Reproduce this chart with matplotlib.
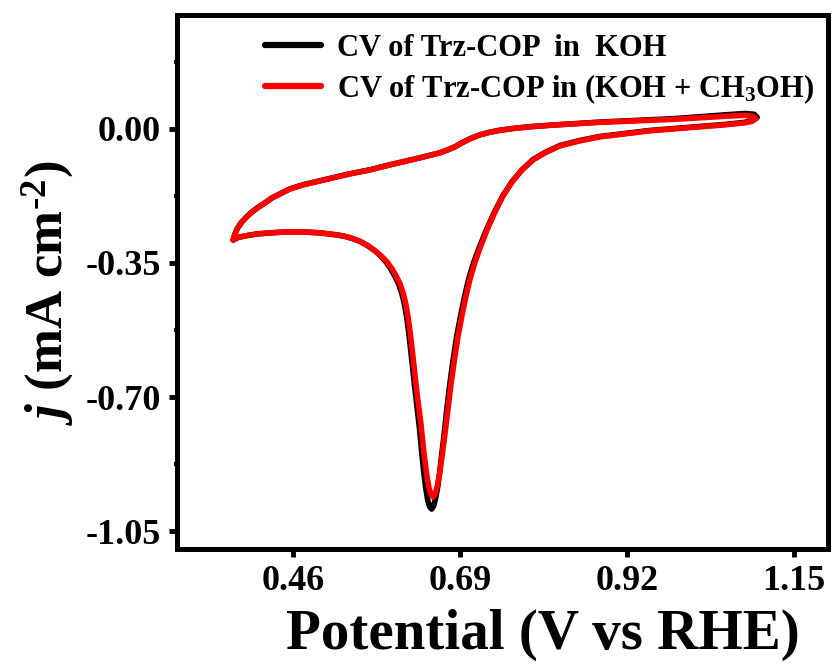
import matplotlib
matplotlib.use("Agg")
import matplotlib.pyplot as plt
from matplotlib.ticker import MultipleLocator, FormatStrFormatter

# CV of Trz-COP in (KOH + CH3OH) (red) - closed loop:
# lower branch (left vertex -> peak -> right vertex), then upper branch back
meoh_potential = [
    0.3774, 0.3842, 0.3939, 0.4104, 0.4283, 0.4517, 0.4738, 0.4972, 0.5206, 0.5316,
    0.5413, 0.5523, 0.5633, 0.5729, 0.5812, 0.5895, 0.5964, 0.6019, 0.6074, 0.6115,
    0.6150, 0.6184, 0.6212, 0.6239, 0.6267, 0.6294, 0.6322, 0.6363, 0.6391, 0.6418,
    0.6446, 0.6473, 0.6501, 0.6528, 0.6556, 0.6583, 0.6611, 0.6639, 0.6666, 0.6694,
    0.6735, 0.6776, 0.6818, 0.6873, 0.6928, 0.6983, 0.7038, 0.7107, 0.7176, 0.7272,
    0.7382, 0.7493, 0.7617, 0.7754, 0.7906, 0.8071, 0.8278, 0.8553, 0.8829, 0.9173,
    0.9517, 0.9862, 1.0206, 1.0550, 1.0826, 1.0922, 1.0977,
    1.0936, 1.0826, 1.0550, 1.0206, 0.9862, 0.9517, 0.9173, 0.8829, 0.8484, 0.8140,
    0.7865, 0.7658, 0.7451, 0.7313, 0.7176, 0.7038, 0.6928, 0.6831, 0.6735, 0.6625,
    0.6487, 0.6349, 0.6143, 0.5936, 0.5661, 0.5385, 0.5206, 0.4972, 0.4738, 0.4559,
    0.4421, 0.4311, 0.4214, 0.4118, 0.4035, 0.3953, 0.3884, 0.3829, 0.3794, 0.3774,
]
meoh_current = [
    -0.2898, -0.2833, -0.2794, -0.2742, -0.2715, -0.2689, -0.2689, -0.2715, -0.2768, -0.2807,
    -0.2859, -0.2937, -0.3055, -0.3185, -0.3316, -0.3473, -0.3655, -0.3838, -0.4047, -0.4282,
    -0.4543, -0.4909, -0.5300, -0.5744, -0.6214, -0.6684, -0.7128, -0.7729, -0.8251, -0.8695,
    -0.9086, -0.9373, -0.9556, -0.9608, -0.9530, -0.9347, -0.9086, -0.8721, -0.8329, -0.7937,
    -0.7285, -0.6658, -0.6084, -0.5405, -0.4856, -0.4360, -0.3916, -0.3473, -0.3107, -0.2637,
    -0.2167, -0.1749, -0.1384, -0.1071, -0.0809, -0.0627, -0.0444, -0.0313, -0.0209, -0.0131,
    -0.0052, 0.0000, 0.0052, 0.0104, 0.0157, 0.0196, 0.0261,
    0.0326, 0.0352, 0.0326, 0.0287, 0.0248, 0.0222, 0.0196, 0.0170, 0.0131, 0.0091,
    0.0052, 0.0013, -0.0039, -0.0091, -0.0157, -0.0261, -0.0366, -0.0470, -0.0548, -0.0627,
    -0.0692, -0.0757, -0.0849, -0.0940, -0.1071, -0.1175, -0.1253, -0.1358, -0.1462, -0.1567,
    -0.1697, -0.1802, -0.1932, -0.2050, -0.2167, -0.2311, -0.2454, -0.2611, -0.2768, -0.2898,
]

# CV of Trz-COP in KOH (black) - same loop, slightly deeper peak
koh_potential = [
    0.3774, 0.3842, 0.3939, 0.4104, 0.4283, 0.4517, 0.4738, 0.4972, 0.5206, 0.5316,
    0.5413, 0.5523, 0.5633, 0.5729, 0.5805, 0.5880, 0.5945, 0.6000, 0.6054, 0.6095,
    0.6130, 0.6164, 0.6192, 0.6219, 0.6247, 0.6274, 0.6302, 0.6343, 0.6371, 0.6398,
    0.6426, 0.6453, 0.6481, 0.6508, 0.6536, 0.6563, 0.6591, 0.6619, 0.6646, 0.6674,
    0.6715, 0.6756, 0.6798, 0.6853, 0.6908, 0.6963, 0.7018, 0.7090, 0.7162, 0.7262,
    0.7375, 0.7488, 0.7614, 0.7752, 0.7906, 0.8071, 0.8278, 0.8553, 0.8829, 0.9173,
    0.9517, 0.9862, 1.0206, 1.0550, 1.0826, 1.0930, 1.0995,
    1.0950, 1.0826, 1.0550, 1.0206, 0.9862, 0.9517, 0.9173, 0.8829, 0.8484, 0.8140,
    0.7865, 0.7658, 0.7451, 0.7313, 0.7176, 0.7038, 0.6928, 0.6831, 0.6735, 0.6625,
    0.6487, 0.6349, 0.6143, 0.5936, 0.5661, 0.5385, 0.5206, 0.4972, 0.4738, 0.4559,
    0.4421, 0.4311, 0.4214, 0.4118, 0.4035, 0.3953, 0.3884, 0.3829, 0.3794, 0.3774,
]
koh_current = [
    -0.2898, -0.2833, -0.2794, -0.2742, -0.2715, -0.2689, -0.2689, -0.2715, -0.2768, -0.2807,
    -0.2859, -0.2937, -0.3055, -0.3185, -0.3316, -0.3473, -0.3655, -0.3838, -0.4047, -0.4282,
    -0.4543, -0.4909, -0.5300, -0.5760, -0.6240, -0.6720, -0.7180, -0.7850, -0.8430, -0.8930,
    -0.9360, -0.9680, -0.9860, -0.9920, -0.9840, -0.9640, -0.9360, -0.8960, -0.8510, -0.8080,
    -0.7350, -0.6700, -0.6110, -0.5420, -0.4870, -0.4370, -0.3920, -0.3475, -0.3110, -0.2640,
    -0.2170, -0.1750, -0.1384, -0.1071, -0.0800, -0.0617, -0.0434, -0.0303, -0.0199, -0.0121,
    -0.0042, 0.0010, 0.0062, 0.0114, 0.0170, 0.0230, 0.0300,
    0.0380, 0.0400, 0.0365, 0.0315, 0.0268, 0.0236, 0.0206, 0.0176, 0.0135, 0.0094,
    0.0055, 0.0016, -0.0036, -0.0088, -0.0154, -0.0258, -0.0363, -0.0467, -0.0545, -0.0624,
    -0.0689, -0.0754, -0.0846, -0.0937, -0.1068, -0.1172, -0.1250, -0.1355, -0.1459, -0.1564,
    -0.1694, -0.1799, -0.1929, -0.2047, -0.2164, -0.2308, -0.2451, -0.2608, -0.2765, -0.2898,
]

x_ticks = [0.46, 0.69, 0.92, 1.15]
y_ticks = [0.00, -0.35, -0.70, -1.05]

plt.rcParams['font.family'] = ['Liberation Serif', 'DejaVu Serif']
plt.rcParams['font.weight'] = 'bold'
plt.rcParams['mathtext.fontset'] = 'custom'
plt.rcParams['mathtext.rm'] = 'Liberation Serif:bold'
plt.rcParams['mathtext.bf'] = 'Liberation Serif:bold'
plt.rcParams['mathtext.it'] = 'Liberation Serif:bold:italic'

fig = plt.figure(figsize=(8.33, 6.67), dpi=100)
ax = fig.add_axes([0.2125, 0.177, 0.7815, 0.800])

ax.plot(koh_potential, koh_current, color='black', lw=4.0,
        solid_joinstyle='round', solid_capstyle='round', label='CV of Trz-COP  in  KOH')
ax.plot(meoh_potential, meoh_current, color='#ff0000', lw=4.0,
        solid_joinstyle='round', solid_capstyle='round',
        label='CV of Trz-COP in (KOH + CH$_3$OH)')

ax.set_xlim(0.30, 1.197)
ax.set_ylim(-1.096, 0.296)
ax.set_xticks(x_ticks)
ax.set_yticks(y_ticks)
ax.xaxis.set_minor_locator(MultipleLocator(0.115))
ax.yaxis.set_minor_locator(MultipleLocator(0.175))
ax.xaxis.set_major_formatter(FormatStrFormatter('%.2f'))
ax.yaxis.set_major_formatter(FormatStrFormatter('%.2f'))

for s in ax.spines.values():
    s.set_linewidth(3.6)
ax.tick_params(which='major', direction='out', length=5.5, width=3.5,
               labelsize=26, pad=6)
ax.tick_params(which='minor', direction='out', length=2.5, width=3)
for lab in ax.get_xticklabels() + ax.get_yticklabels():
    lab.set_fontweight('bold')

ax.set_xlabel('Potential (V vs RHE)', fontsize=41, fontweight='bold')
ax.xaxis.set_label_coords(0.562, -0.112)
ax.set_ylabel(r'$j$ (mA cm$^{\text{-}2}$)', fontsize=38, fontweight='bold')
ax.yaxis.set_label_coords(-0.155, 0.48)

leg = ax.legend(loc='upper left', bbox_to_anchor=(0.135, 0.965), frameon=False,
                fontsize=22, handlelength=1.85, handletextpad=0.5,
                labelspacing=0.3, borderaxespad=0.0, borderpad=0.0)
for line in leg.get_lines():
    line.set_linewidth(4.5)

fig.savefig('out.png', dpi=100)
